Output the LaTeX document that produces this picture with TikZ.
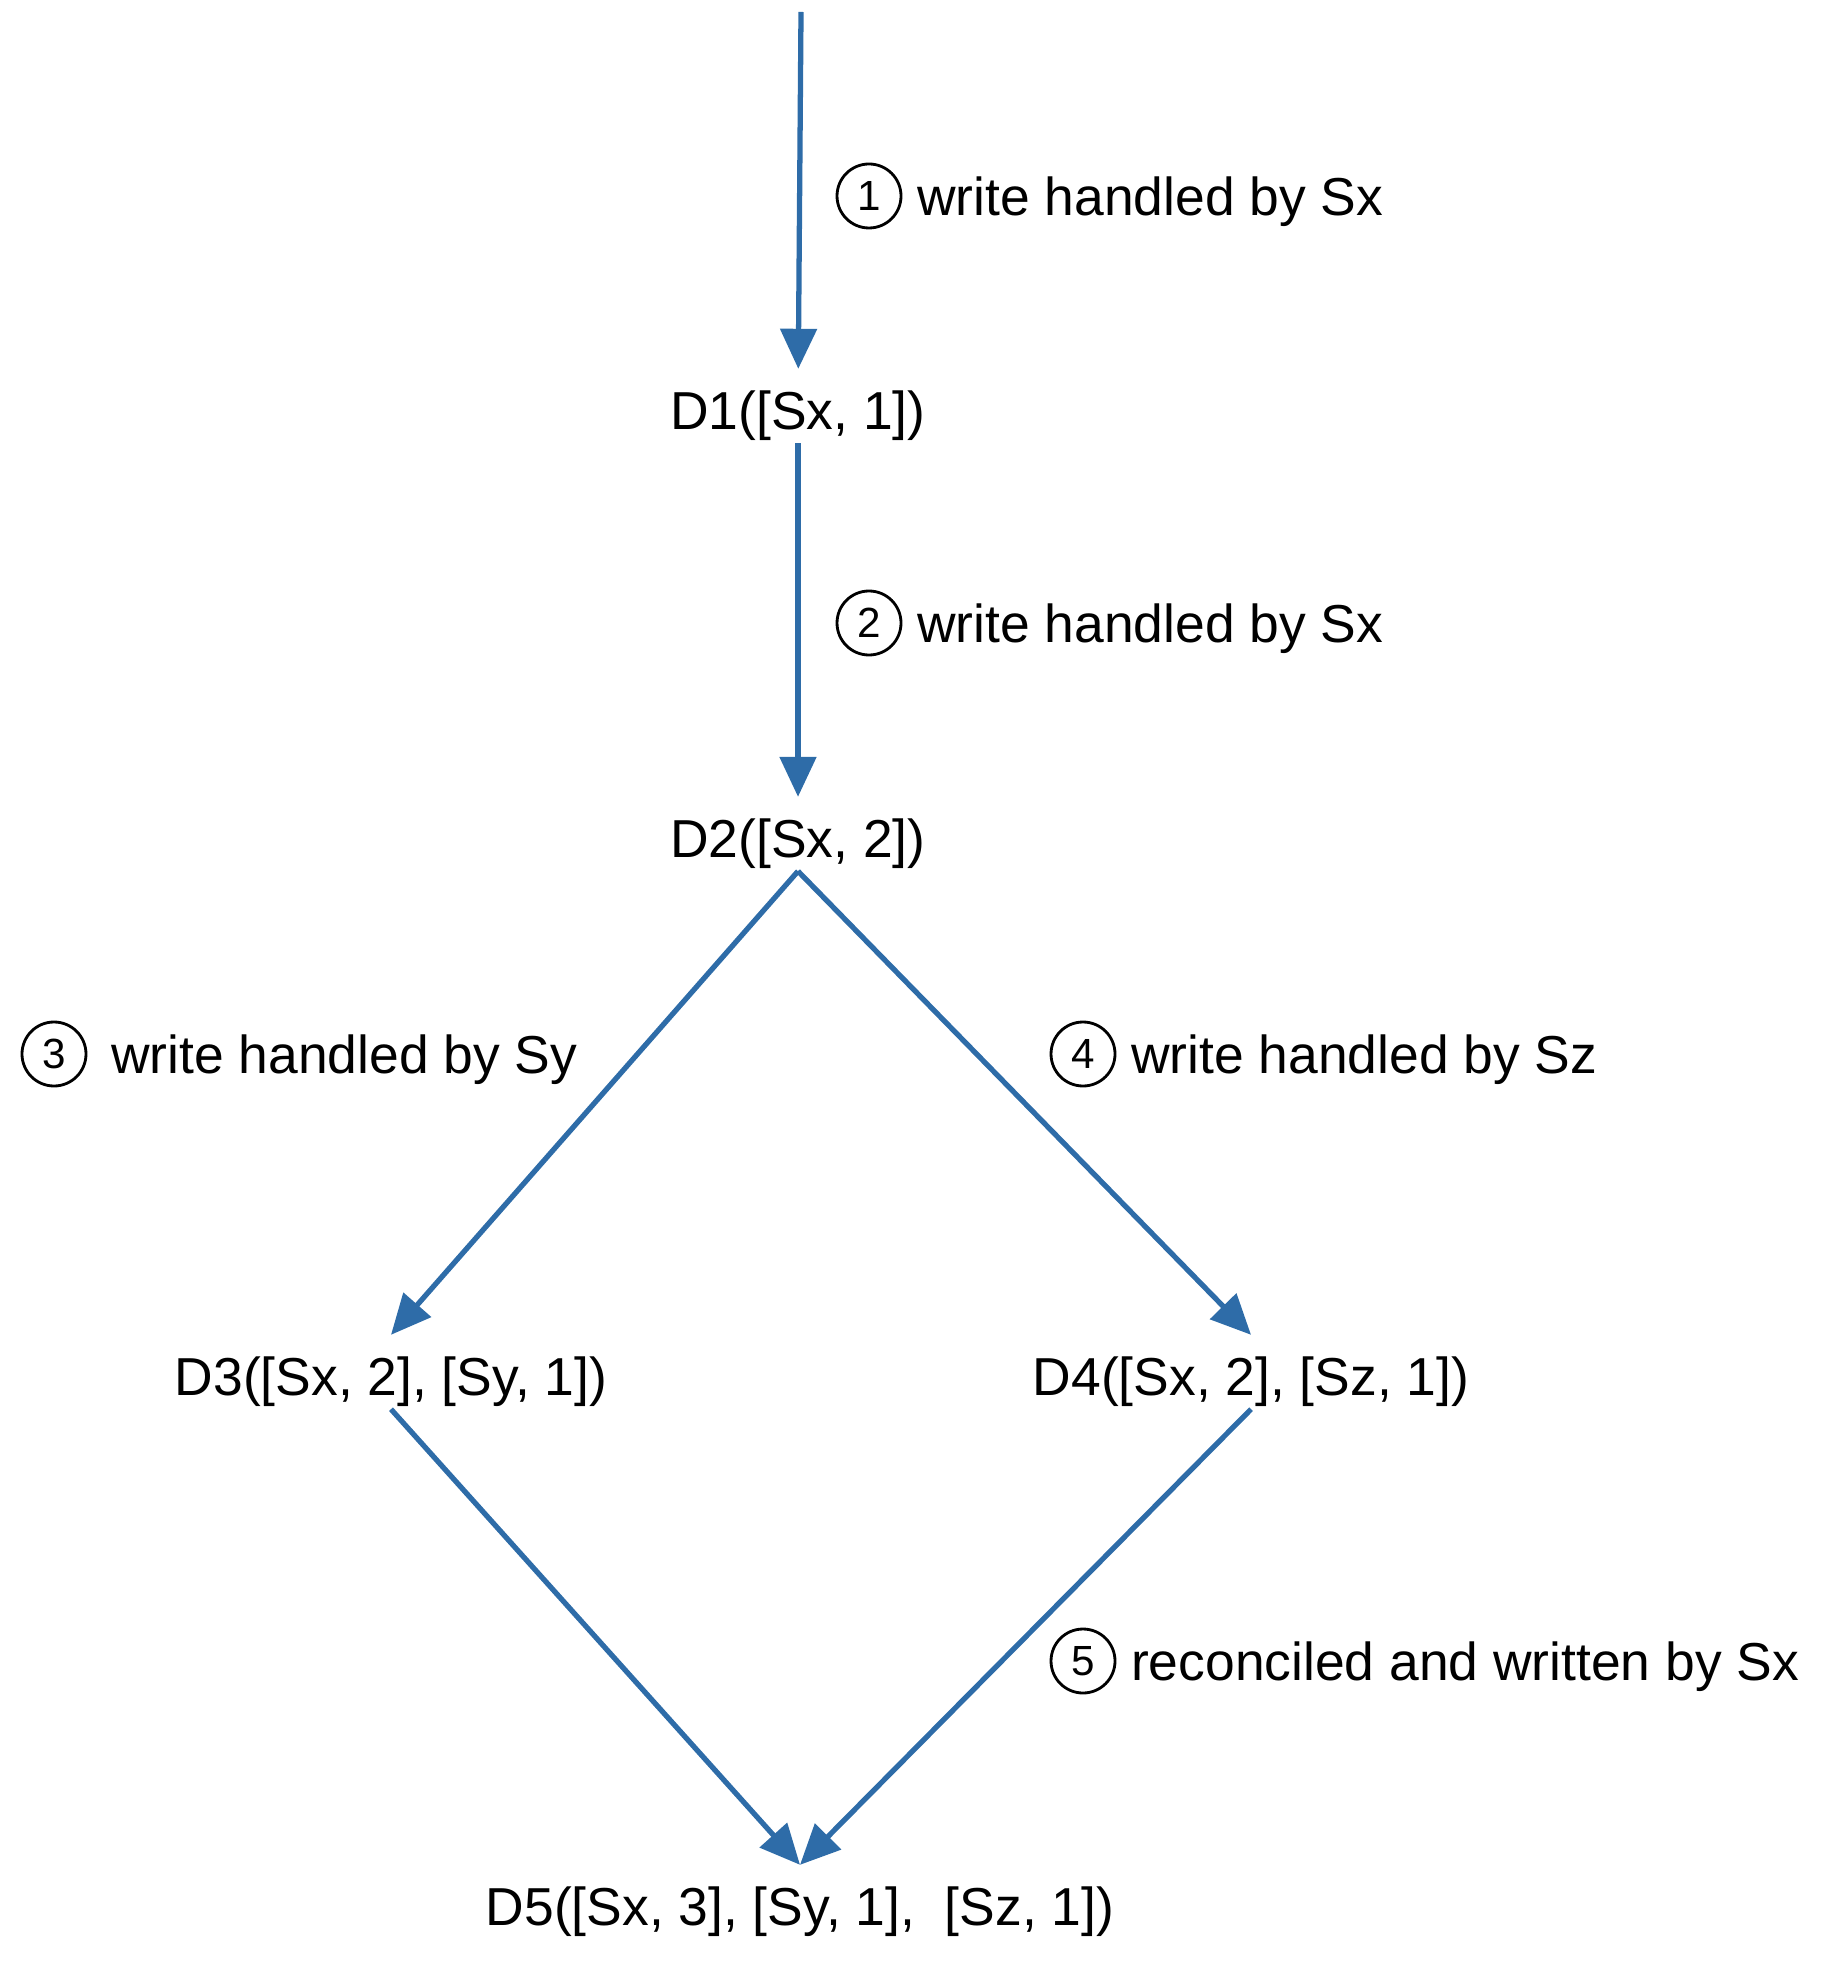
\documentclass[tikz,border=0pt]{standalone}
\usepackage{fontspec}
\setmainfont{Liberation Sans}
\usetikzlibrary{positioning,arrows.meta}

\definecolor{flowblue}{RGB}{46,108,168}

\tikzset{
    version/.style={inner xsep=0pt, inner ysep=1.3mm, text height=4.7mm, text depth=0pt,
                    font=\fontsize{15.2}{18}\selectfont},
    stepnum/.style={circle, draw, line width=0.8pt, minimum size=6.4mm, inner sep=0pt,
                    font=\fontsize{12}{14}\selectfont},
    steptext/.style={inner sep=0pt, text height=3.9mm, text depth=0pt,
                     font=\fontsize{15.2}{18}\selectfont},
    flow/.style={flowblue, line width=1.5pt}
}

\begin{document}
\begin{tikzpicture}[
                            node distance=4.28cm,
                            >={Triangle[length=4mm,width=3.6mm]}
                        ]
                        \useasboundingbox (0,0) rectangle (18.28,-19.61);
                        % Versions
                        \node [coordinate] (in) at (8.01,-0.12) {};
                        \node [version] (D1) at (7.98,-4.06) {D1([Sx, 1])};
                        \node [version,below of=D1] (D2) {D2([Sx, 2])};
                        \node [version,below of=D2,node distance=5.38cm,xshift=-4.07cm] (D3) {D3([Sx, 2], [Sy, 1])};
                        \node [version,below of=D2,node distance=5.38cm,xshift=4.53cm] (D4) {D4([Sx, 2], [Sz, 1])};
                        \node [version,below of=D2,node distance=10.68cm,xshift=0.02cm] (D5) {D5([Sx, 3], [Sy, 1],\ \ [Sz, 1])};

                        % Steps
                        \node [stepnum] (n1) at (8.69,-1.96) {1};
                        \node [steptext,right=1.4mm of n1] (t1) {write handled by Sx};
                        \node [stepnum] (n2) at (8.69,-6.23) {2};
                        \node [steptext,right=1.4mm of n2] (t2) {write handled by Sx};
                        \node [stepnum] (n3) at (0.54,-10.54) {3};
                        \node [steptext,right=2.3mm of n3] (t3) {write handled by Sy};
                        \node [stepnum] (n4) at (10.83,-10.54) {4};
                        \node [steptext,right=1.4mm of n4] (t4) {write handled by Sz};
                        \node [stepnum] (n5) at (10.83,-16.61) {5};
                        \node [steptext,right=1.4mm of n5] (t5) {reconciled and written by Sx};

                        % Connections
                        \draw [flow,->] (in) -- (D1);
                        \draw [flow,->] (D1) -- (D2);
                        \draw [flow,->] (D2.south) -- (D3.north);
                        \draw [flow,->] (D2.south) -- (D4.north);
                        \draw [flow,->] (D3.south) -- (D5.north);
                        \draw [flow,->] (D4.south) -- (D5.north);
                    \end{tikzpicture}
\end{document}
